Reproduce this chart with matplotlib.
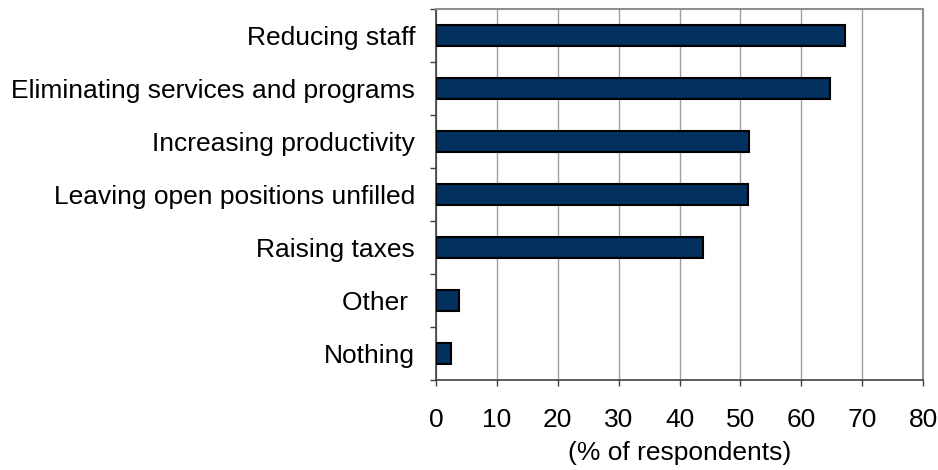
import numpy as np
import matplotlib.pyplot as plt
from matplotlib.ticker import FixedLocator, NullFormatter

plt.rcParams['font.family'] = ['Liberation Sans', 'DejaVu Sans']

# Data (top to bottom as shown)
categories = ['Reducing staff', 'Eliminating services and programs',
              'Increasing productivity', 'Leaving open positions unfilled',
              'Raising taxes', 'Other ', 'Nothing']
values = [67.2, 64.7, 51.4, 51.3, 43.8, 3.8, 2.5]
xticks = [0, 10, 20, 30, 40, 50, 60, 70, 80]

fig = plt.figure(figsize=(9.38, 4.70), dpi=100)
ax = fig.add_axes([436/938, 1 - 380/470, (923-436)/938, (380-9)/470])

y = np.arange(len(categories))[::-1]
ax.barh(y, values, height=0.4, color='#02305f', edgecolor='black',
        linewidth=1.5, zorder=3)

ax.set_xlim(0, 80)
ax.set_ylim(-0.5, len(categories) - 0.5)
ax.set_xticks(xticks)
ax.tick_params(axis='x', labelsize=19, length=4.5, width=1, color='#404040', pad=16)
ax.xaxis.grid(True, color='#a0a0a0', linewidth=1, zorder=0)

# category labels at bar centres, tick marks at the boundaries
ax.yaxis.set_major_locator(FixedLocator(np.arange(-0.5, len(categories), 1)))
ax.yaxis.set_major_formatter(NullFormatter())
ax.yaxis.set_minor_locator(FixedLocator(y))
ax.set_yticklabels(categories, minor=True)
ax.tick_params(axis='y', which='major', length=4.5, width=1, color='#404040')
ax.tick_params(axis='y', which='minor', length=0, labelsize=19, pad=15)

for side in ['top', 'right']:
    ax.spines[side].set_color('#909090')
    ax.spines[side].set_linewidth(1.5)
for side in ['left', 'bottom']:
    ax.spines[side].set_color('#404040')
    ax.spines[side].set_linewidth(1.2)

ax.set_xlabel('(% of respondents)', fontsize=19, labelpad=6)

fig.savefig('out.png', dpi=100)
